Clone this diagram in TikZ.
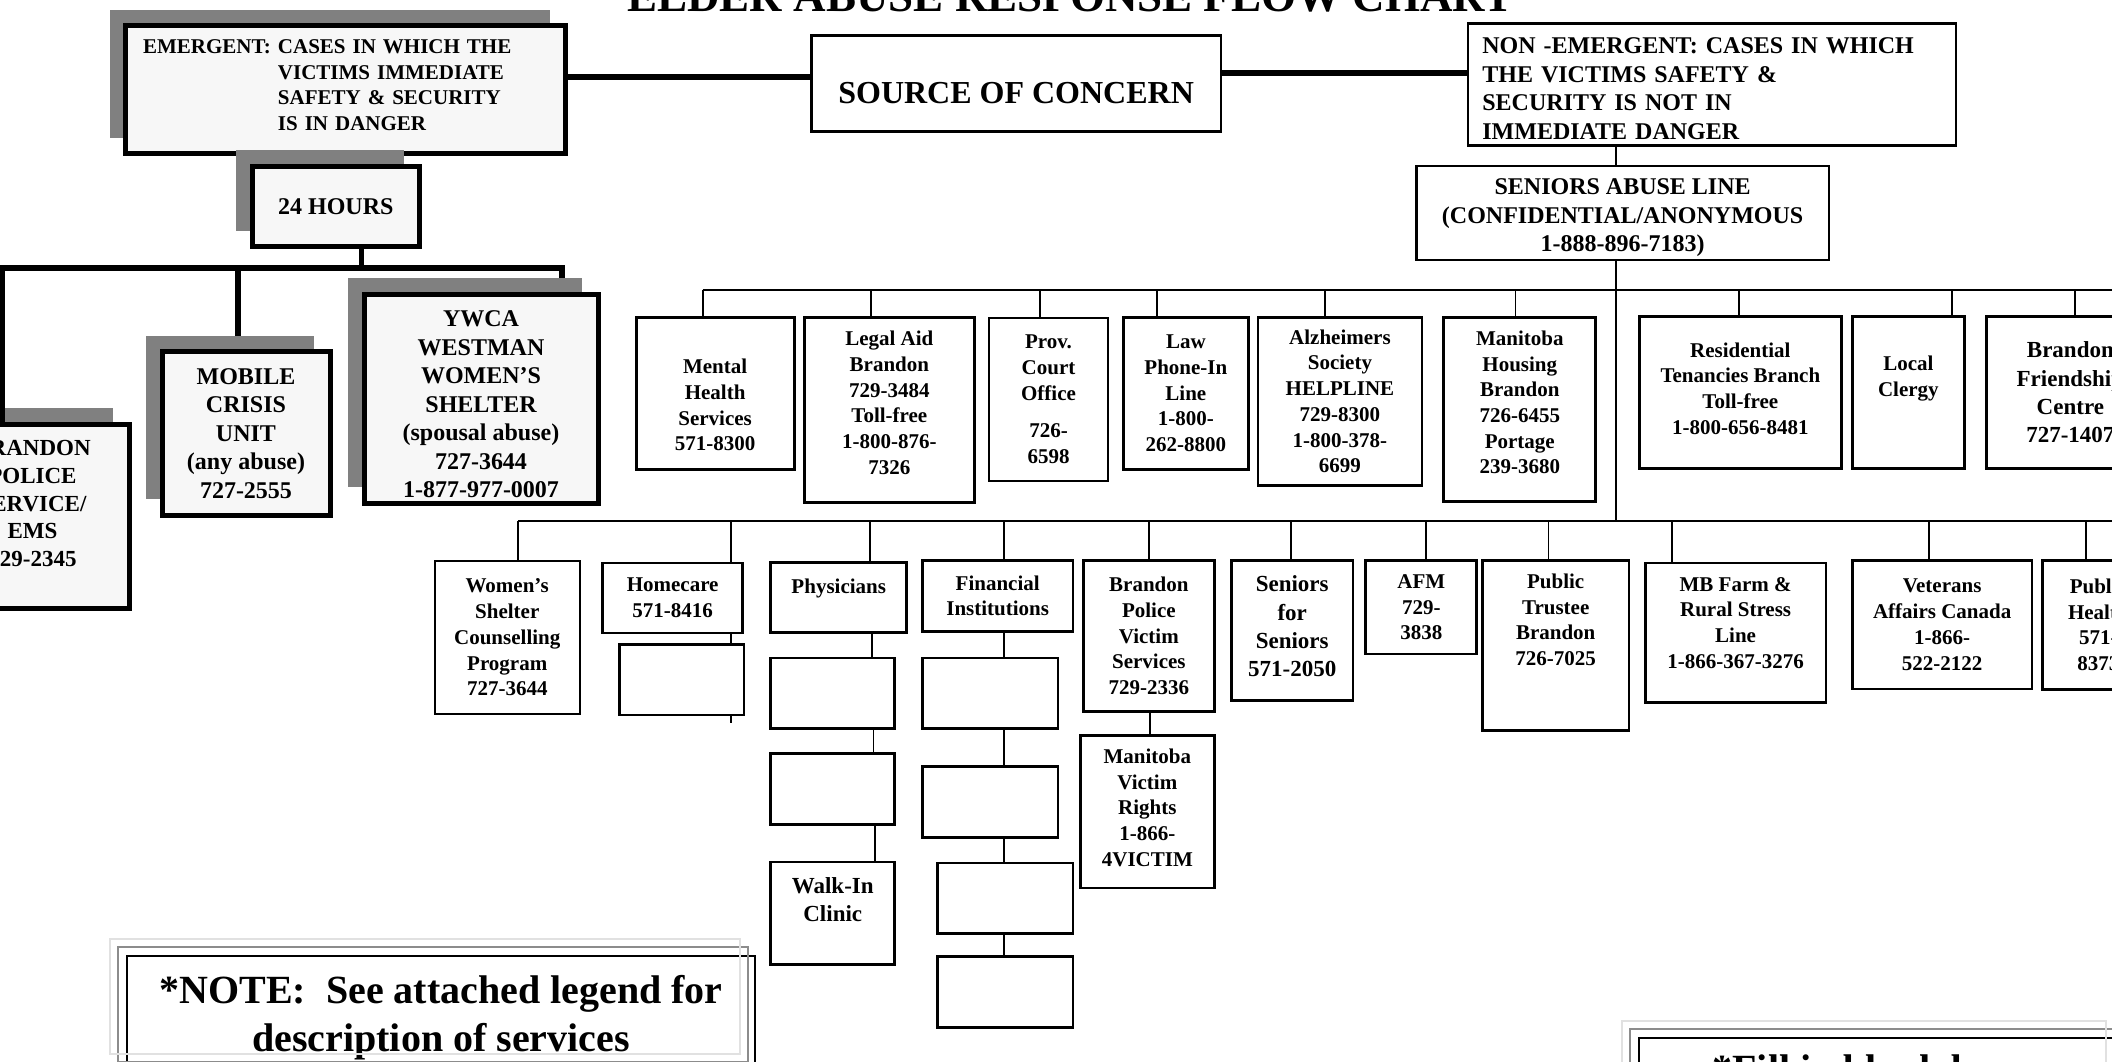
\documentclass[tikz,border=0pt]{standalone}
\usepackage{fontspec}
\setmainfont{Liberation Serif}
\usetikzlibrary{calc,shadows,backgrounds}

\definecolor{boxfill}{RGB}{247,247,247}
\definecolor{shadegray}{RGB}{128,128,128}
\definecolor{framegray}{RGB}{140,140,140}
\definecolor{framelight}{RGB}{225,225,225}

% struts that push a box's text up (padbelow) or down (padabove)
\newcommand{\padbelow}[1]{\rule[-#1]{0pt}{#1}}
\newcommand{\padabove}[1]{\rule{0pt}{#1}}

\tikzset{
  sz/.style 2 args={minimum width=#1pt, minimum height=#2pt},
  emerg/.style={draw, line width=5pt, fill=boxfill, inner sep=0pt, anchor=north west, align=center,
    drop shadow={shadow xshift=-16pt, shadow yshift=16pt, fill=shadegray, opacity=1},
    font=\bfseries\fontsize{24}{28.5}\selectfont},
  topbox/.style={draw, line width=2.7pt, fill=white, inner sep=0pt, anchor=north west, align=center,
    font=\bfseries\fontsize{24}{28.5}\selectfont},
  cell/.style={draw, line width=2.7pt, fill=white, inner sep=0pt, anchor=north west, align=center,
    font=\bfseries\fontsize{21}{25.7}\selectfont},
  thin/.style={line width=2pt},
  big/.style={font=\bfseries\fontsize{23}{28.3}\selectfont},
  heavy/.style={line width=5.5pt},
  link/.style={line width=1.8pt},
  notebox/.style={draw, line width=2pt, inner sep=0pt, anchor=north west, align=center,
    font=\bfseries\fontsize{40}{48}\selectfont},
}

\begin{document}
\begin{tikzpicture}[x=1pt, y=-1pt]
\useasboundingbox (0,0) rectangle (2112,1062);

% Title (runs off the top of the page)
\node[font=\bfseries\fontsize{45}{54}\selectfont, anchor=base] (title) at (1070.5,12) {ELDER ABUSE RESPONSE FLOW CHART};

% Emergent branch
\node[emerg, sz={440}{128}, align=left, text width=405pt, font=\bfseries\fontsize{21}{25.5}\selectfont] (emergent) at (123,23.5)
  {EMERGENT: CASES IN WHICH THE\\\phantom{EMERGENT: }VICTIMS IMMEDIATE\\\phantom{EMERGENT: }SAFETY \& SECURITY\\\phantom{EMERGENT: }IS IN DANGER\padbelow{10pt}};
\node[emerg, sz={167.5}{80}] (hours) at (249.5,164) {24 HOURS};
\node[emerg, sz={168}{163.5}] (mobile) at (159.5,349) {MOBILE\\CRISIS\\UNIT\\(any abuse)\\727-2555};
\node[emerg, sz={234}{209}] (ywca) at (361.5,291.5)
  {\padabove{28pt}YWCA\\WESTMAN\\WOMEN’S\\SHELTER\\(spousal abuse)\\727-3644\\1-877-977-0007};
\node[emerg, sz={193}{184}, font=\bfseries\fontsize{23}{27.7}\selectfont] (police) at (-66.5,421.5)
  {BRANDON\\POLICE\\SERVICE/\\EMS\\729-2345\padbelow{25pt}};

% Source and non-emergent branch
\node[topbox, sz={409.5}{96}, font=\bfseries\fontsize{32}{38}\selectfont] (source) at (810,34.5) {\padabove{40pt}SOURCE OF CONCERN};
\node[topbox, sz={488}{122}, align=left, text width=459pt] (nonemerg) at (1466.5,22.5)
  {\padabove{24pt}NON -EMERGENT: CASES IN WHICH\\THE VICTIMS SAFETY \&\\SECURITY IS NOT IN\\IMMEDIATE DANGER};
\node[topbox, sz={412.5}{94}] (abuseline) at (1415,164.5) {\padabove{26pt}SENIORS ABUSE LINE\\(CONFIDENTIAL/ANONYMOUS\\1-888-896-7183)};

% First row of services
\node[cell, sz={158}{152}] (mental) at (634.8,316) {\padabove{38pt}Mental\\Health\\Services\\571-8300};
\node[cell, sz={170}{185}] (legal) at (803,316) {Legal Aid\\Brandon\\729-3484\\Toll-free\\1-800-876-\\7326\padbelow{14pt}};
\node[cell, thin, sz={119}{163}] (court) at (988,317) {Prov.\\Court\\Office\\[12pt]726-\\6598};
\node[cell, sz={125}{152}] (lawline) at (1122,316) {Law\\Phone-In\\Line\\1-800-\\262-8800};
\node[cell, sz={164}{168}] (alzh) at (1256.6,316) {Alzheimers\\Society\\HELPLINE\\729-8300\\1-800-378-\\6699};
\node[cell, sz={152}{184}] (mbhousing) at (1442.4,316) {Manitoba\\Housing\\Brandon\\726-6455\\Portage\\239-3680\padbelow{14pt}};
\node[cell, sz={202}{152}] (resid) at (1638,315) {Residential\\Tenancies Branch\\Toll-free\\1-800-656-8481\padbelow{8pt}};
\node[cell, sz={112}{152}] (clergy) at (1851,315) {Local\\Clergy\padbelow{31.6pt}};
\node[cell, big, sz={168}{152}] (friend) at (1985,315) {Brandon\\Friendship\\Centre\\727-1407};

% Second row of services
\node[cell, thin, sz={145.5}{153}] (wshelter) at (433.5,560) {Women’s\\Shelter\\Counselling\\Program\\727-3644};
\node[cell, sz={140}{70}] (homecare) at (601.3,561.5) {Homecare\\571-8416};
\node[cell, sz={124.5}{70.5}] (homeblank) at (618,643) {};
\node[cell, sz={136}{70}] (physicians) at (769.4,561.3) {Physicians\padbelow{22.6pt}};
\node[cell, sz={124}{70.6}] (phys1) at (769.4,656.7) {};
\node[cell, sz={124}{71}] (phys2) at (769.4,752) {};
\node[cell, big, sz={124}{102.5}] (walkin) at (769.4,860.5) {Walk-In\\Clinic\padbelow{27pt}};
\node[cell, sz={150.7}{71}] (financial) at (921,559) {Financial\\Institutions};
\node[cell, sz={135.6}{70.6}] (fin1) at (921,656.7) {};
\node[cell, sz={135.6}{71.4}] (fin2) at (921,765) {};
\node[cell, sz={135.3}{70.4}] (fin3) at (936.4,861.6) {};
\node[cell, sz={135.3}{71}] (fin4) at (936.4,955) {};
\node[cell, sz={131}{151}] (bpvs) at (1082,559) {Brandon\\Police\\Victim\\Services\\729-2336};
\node[cell, sz={134}{152.7}] (mvr) at (1079,734) {Manitoba\\Victim\\Rights\\1-866-\\4VICTIM\padbelow{8pt}};
\node[cell, big, sz={121.7}{140}] (seniors) at (1230,559) {Seniors\\for\\Seniors\\571-2050\padbelow{8pt}};
\node[cell, sz={111}{93.7}] (afm) at (1364.4,559) {AFM\\729-\\3838};
\node[cell, sz={146.7}{170}] (trustee) at (1481,559) {Public\\Trustee\\Brandon\\726-7025\padbelow{51pt}};
\node[cell, sz={180.5}{139.3}] (farm) at (1644,561.7) {MB Farm \&\\Rural Stress\\Line\\1-866-367-3276\padbelow{20pt}};
\node[cell, sz={179.6}{128.7}] (veterans) at (1851,559) {Veterans\\Affairs Canada\\1-866-\\522-2122};
\node[cell, sz={112}{129}] (pubhealth) at (2041,559) {Public\\Health\\571-\\8373};

% Notes at the bottom
\node[notebox, sz={628}{113}] (note) at (126,955) {\padabove{37.5pt}*NOTE:\ \ See attached legend for\\description of services};
\draw[framegray, line width=2pt] ($(note.north west)+(-8,-8)$) rectangle ($(note.south east)+(-8,-8)$);
\draw[framelight, line width=2pt] ($(note.north west)+(-16,-16)$) rectangle ($(note.south east)+(-16,-16)$);
\node[notebox, sz={482}{113}] (fillnote) at (1637.8,1037.3) {*Fill in blank boxes\padbelow{52pt}};
\draw[framegray, line width=2pt] ($(fillnote.north west)+(-8,-8)$) rectangle ($(fillnote.south east)+(-8,-8)$);
\draw[framelight, line width=2pt] ($(fillnote.north west)+(-16,-16)$) rectangle ($(fillnote.south east)+(-16,-16)$);

% the police drop shows over its shadow
\coordinate (busL) at (2.5,268);
\draw[heavy, line cap=rect] (busL) -- (police.north -| busL);

% Connectors, kept behind the boxes
\begin{scope}[on background layer]
\fill[white] (0,0) rectangle (2112,1062);
\coordinate (lnkL) at (0,77);
\coordinate (lnkR) at (0,73);
\coordinate (hbus) at (361.6,268);
\coordinate (busM) at (238,268);
\coordinate (busR) at (562,268);
\draw[heavy] (emergent.east |- lnkL) -- (source.west |- lnkL);
\draw[heavy] (source.east |- lnkR) -- (nonemerg.west |- lnkR);
\draw[heavy] (hours.south -| hbus) -- (hbus);
\draw[heavy] (busL) -- (busR) -- (ywca.north -| busR);
\draw[heavy] (busM) -- (mobile.north -| busM);

\coordinate (trunk) at (1616,290);
\coordinate (topbusL) at (702.7,290);
\coordinate (topbusR) at (2140,290);
\coordinate (lowbusL) at (518,521);
\coordinate (lowbusR) at (2140,521);
\draw[link] (nonemerg.south -| trunk) -- (abuseline.north -| trunk);
\draw[link] (abuseline.south -| trunk) -- (trunk |- lowbusL);
\draw[link] (topbusL) -- (topbusR);
\draw[link] (lowbusL) -- (lowbusR);
\foreach \n/\dx in {mental/702.7, legal/871, court/1039.7, lawline/1156.7, alzh/1325,
                    mbhousing/1515.5, resid/1739, clergy/1952, friend/2075}{
  \coordinate (tap) at (\dx,290);
  \draw[link] (tap) -- (tap |- \n.north);
}
\foreach \n/\dx in {wshelter/518, homecare/731, physicians/870, financial/1003.6, bpvs/1149,
                    seniors/1291, afm/1426, trustee/1548.5, farm/1672, veterans/1929, pubhealth/2086}{
  \coordinate (tap) at (\dx,521);
  \draw[link] (tap) -- (tap |- \n.north);
}
% chains below the second row
\foreach \a/\b/\dx in {homecare/homeblank/731, physicians/phys1/872, phys1/phys2/873.4, phys2/walkin/875,
                       financial/fin1/1003.6, fin1/fin2/1003.6, fin2/fin3/1003.6, fin3/fin4/1003.6, bpvs/mvr/1149.7}{
  \coordinate (tap) at (\dx,0);
  \draw[link] (\a.south -| tap) -- (\b.north -| tap);
}
\coordinate (hctail) at (731,723);
\draw[link] (homeblank.south -| hctail) -- (hctail);
\end{scope}

\end{tikzpicture}
\end{document}
